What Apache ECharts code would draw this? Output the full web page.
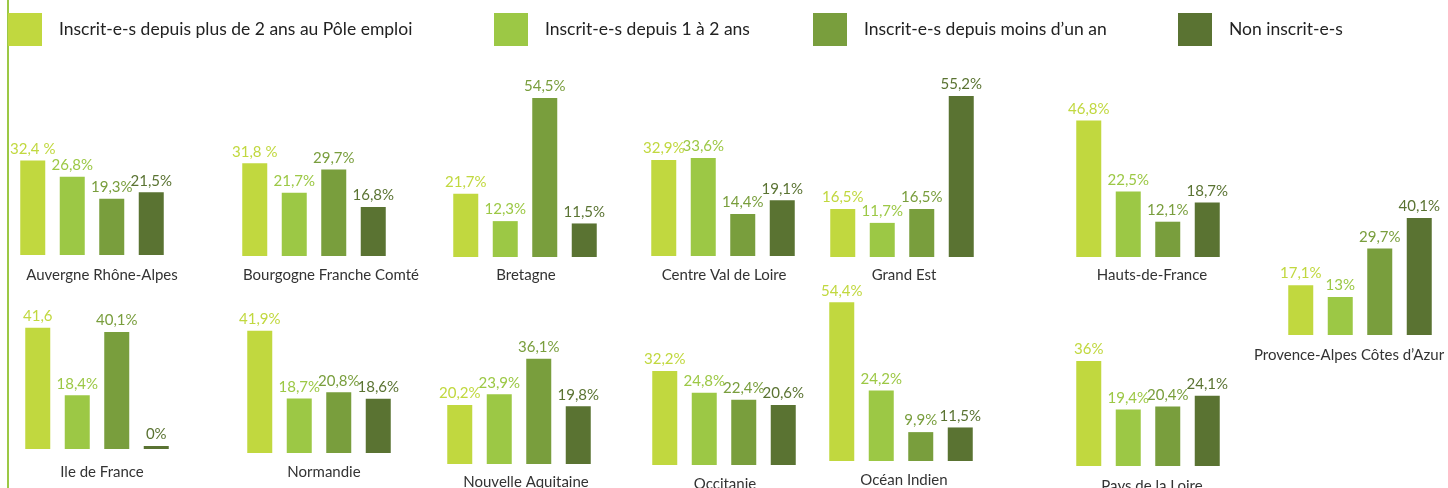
<!DOCTYPE html>
<html>
<head>
<meta charset="utf-8">
<script src="https://cdn.jsdelivr.net/npm/echarts@6/dist/echarts.min.js"></script>
<style>
  html, body { margin: 0; padding: 0; background: #fff; }
  #chart { width: 1448px; height: 488px; }
</style>
</head>
<body>
<div id="chart"></div>
<script>
// legend names / colours
var seriesNames = ['Inscrit-e-s depuis plus de 2 ans au Pôle emploi', 'Inscrit-e-s depuis 1 à 2 ans', 'Inscrit-e-s depuis moins d\u2019un an', 'Non inscrit-e-s'];
var colors = ['#c1d83f', '#9cc845', '#799e3d', '#5a7332'];

var regions = ['Auvergne Rhône-Alpes', 'Bourgogne Franche Comté', 'Bretagne', 'Centre Val de Loire', 'Grand Est', 'Hauts-de-France',
  'Provence-Alpes Côtes d\u2019Azur', 'Ile de France', 'Normandie', 'Nouvelle Aquitaine', 'Occitanie', 'Océan Indien', 'Pays de la Loire'];

// valeurs en %
var plus2ans   = [32.4, 31.8, 21.7, 32.9, 16.5, 46.8, 17.1, 41.6, 41.9, 20.2, 32.2, 54.4, 36];
var de1a2ans   = [26.8, 21.7, 12.3, 33.6, 11.7, 22.5, 13, 18.4, 18.7, 23.9, 24.8, 24.2, 19.4];
var moins1an   = [19.3, 29.7, 54.5, 14.4, 16.5, 12.1, 29.7, 40.1, 20.8, 36.1, 22.4, 9.9, 20.4];
var nonInscrit = [21.5, 16.8, 11.5, 19.1, 55.2, 18.7, 40.1, 0, 18.6, 19.8, 20.6, 11.5, 24.1];
// libellés écrits autrement dans l'original
var plus2ansLabels = ['32,4 %', '31,8 %', null, null, null, null, null, '41,6', null, null, null, null, null];

var allValues = [plus2ans, de1a2ans, moins1an, nonInscrit];

// position of each small panel: left, bottom, label centre x, label y
var panelLeft   = [13, 235, 446, 644, 823, 1069, 1281, 18, 240, 440, 645, 822, 1069];
var panelBottom = [255, 256, 257, 256, 257, 257, 335, 449, 453, 464, 465, 461, 466];
var labelX      = [97, 326, 521, 719, 899, 1147, 1344, 97, 319, 521, 720, 899, 1147];
var labelY      = [272, 272, 272, 272, 272, 272, 352, 469, 469, 479, 481, 477, 483];
var legendLeft  = [8, 494, 813, 1178];

var pxPerUnit = 2.92;
var yMax = 60;
var panelW = 158;

var myChart = echarts.init(document.getElementById('chart'));

var grids = [], xAxes = [], yAxes = [], series = [], titles = [];
regions.forEach(function(r, i) {
  var h = Math.round(yMax * pxPerUnit);
  grids.push({ left: panelLeft[i], top: panelBottom[i] - h, width: panelW, height: h });
  xAxes.push({ type: 'category', gridIndex: i, data: ['a', 'b', 'c', 'd'], show: false });
  yAxes.push({ type: 'value', gridIndex: i, min: 0, max: yMax, show: false });
  titles.push({
    text: r, left: labelX[i], top: labelY[i] - 9, textAlign: 'center',
    textStyle: { fontFamily: 'Lato', fontWeight: 'normal', fontSize: 15, color: '#333' }
  });
  for (var k = 0; k < 4; k++) {
    var d = ['-', '-', '-', '-'];
    d[k] = allValues[k][i];
    series.push({
      name: seriesNames[k],
      type: 'bar',
      xAxisIndex: i, yAxisIndex: i,
      stack: 'r' + i,
      barWidth: 25,
      barMinHeight: 3,
      data: d,
      itemStyle: { color: colors[k] },
      label: {
        show: true, position: 'top', distance: 4,
        color: colors[k], fontSize: 15,
        fontFamily: 'Lato',
        formatter: (function(k, i) {
          return function(p) {
            if (k === 0 && plus2ansLabels[i]) return plus2ansLabels[i];
            return String(p.value).replace('.', ',') + '%';
          };
        })(k, i)
      }
    });
  }
});

var legends = seriesNames.map(function(n, k) {
  return {
    data: [n], left: legendLeft[k], top: 13, padding: 0,
    itemWidth: 34, itemHeight: 33, icon: 'rect', selectedMode: false,
    textStyle: { fontFamily: 'Lato', fontSize: 17.5, color: '#222', padding: [0, 0, 0, 12] }
  };
});

var option = {
  animation: false,
  title: titles,
  legend: legends,
  grid: grids,
  xAxis: xAxes,
  yAxis: yAxes,
  series: series,
  graphic: [{
    type: 'line', shape: { x1: 8, y1: 0, x2: 8, y2: 488 },
    style: { stroke: '#9cc845', lineWidth: 2 }
  }]
};
myChart.setOption(option);
</script>
</body>
</html>
